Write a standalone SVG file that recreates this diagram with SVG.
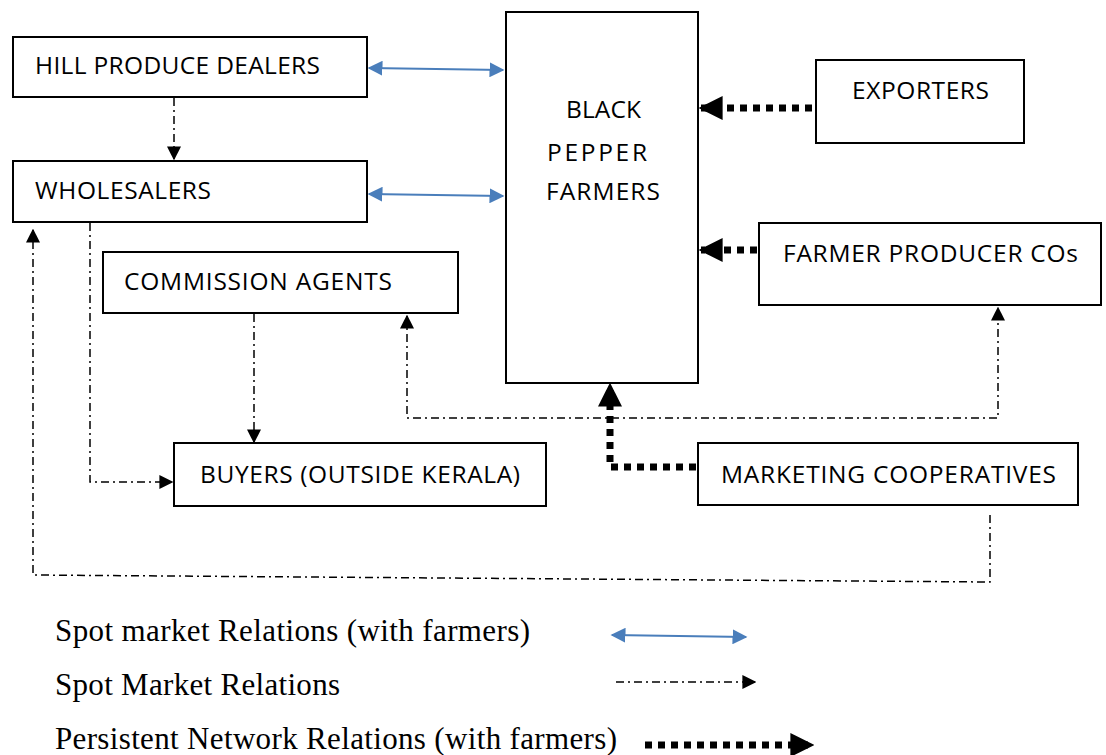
<svg xmlns="http://www.w3.org/2000/svg" width="1106" height="755" viewBox="0 0 1106 755">
  <style>
    .box { fill: #fff; stroke: #000; stroke-width: 2; }
    .lbl { font-family: "Open Sans", "Liberation Sans", sans-serif; font-size: 24.5px; fill: #000; }
    .leg { font-family: "Liberation Serif", serif; font-size: 31px; fill: #000; }
    .spot-f { fill: none; stroke: #4a7ebb; stroke-width: 2; }
    .spot { fill: none; stroke: #000; stroke-width: 1.5; stroke-dasharray: 8 4 2 4; }
    .pers { fill: none; stroke: #000; stroke-width: 7; stroke-dasharray: 7 6; }
  </style>
  <defs>
    <marker id="blueHead" viewBox="0 0 10 10" refX="9" refY="5" markerWidth="15" markerHeight="15" markerUnits="userSpaceOnUse" orient="auto-start-reverse">
      <path d="M0,0 L10,5 L0,10 z" fill="#4a7ebb"/>
    </marker>
    <marker id="thinHead" viewBox="0 0 10 10" refX="9" refY="5" markerWidth="14" markerHeight="14" markerUnits="userSpaceOnUse" orient="auto-start-reverse">
      <path d="M0,0 L10,5 L0,10 z" fill="#000"/>
    </marker>
    <marker id="thickHead" viewBox="0 0 10 10" refX="9" refY="5" markerWidth="24" markerHeight="24" markerUnits="userSpaceOnUse" orient="auto-start-reverse">
      <path d="M0,0 L10,5 L0,10 z" fill="#000"/>
    </marker>
  </defs>

  <g id="connectors">
    <!-- spot market relations with farmers -->
    <path class="spot-f" d="M369,68 L503,70" marker-start="url(#blueHead)" marker-end="url(#blueHead)"/>
    <path class="spot-f" d="M369,194 L503,196" marker-start="url(#blueHead)" marker-end="url(#blueHead)"/>
    <!-- spot market relations -->
    <path class="spot" d="M174,98 L174,159" marker-end="url(#thinHead)"/>
    <path class="spot" d="M254,314 L254,442" marker-end="url(#thinHead)"/>
    <path class="spot" d="M90,223 L90,482 L172,482" marker-end="url(#thinHead)"/>
    <path class="spot" d="M407,316 L407,418 L998,418 L998,308" marker-start="url(#thinHead)" marker-end="url(#thinHead)"/>
    <path class="spot" d="M990,515 L990,582 L33,575 L33,230" marker-end="url(#thinHead)"/>
    <!-- persistent network relations -->
    <path class="pers" d="M812,108 L701,108" marker-end="url(#thickHead)"/>
    <path class="pers" d="M757,250 L701,250" marker-end="url(#thickHead)"/>
    <path class="pers" d="M696,467 L610,467 L610,385" marker-end="url(#thickHead)"/>
  </g>

  <g id="hill-produce-dealers">
    <rect class="box" x="13" y="37" width="354" height="60"/>
    <text class="lbl" x="35" y="74" textLength="285">HILL PRODUCE DEALERS</text>
  </g>
  <g id="wholesalers">
    <rect class="box" x="13" y="161" width="354" height="61"/>
    <text class="lbl" x="35" y="199" textLength="176">WHOLESALERS</text>
  </g>
  <g id="commission-agents">
    <rect class="box" x="103" y="252" width="355" height="61"/>
    <text class="lbl" x="124" y="290" textLength="268">COMMISSION AGENTS</text>
  </g>
  <g id="black-pepper-farmers">
    <rect class="box" x="506" y="12" width="192" height="371"/>
    <text class="lbl" x="566" y="118" textLength="75">BLACK</text>
    <text class="lbl" x="547" y="161" textLength="100">PEPPER</text>
    <text class="lbl" x="546" y="200" textLength="114">FARMERS</text>
  </g>
  <g id="exporters">
    <rect class="box" x="816" y="60" width="208" height="83"/>
    <text class="lbl" x="852" y="99" textLength="137">EXPORTERS</text>
  </g>
  <g id="farmer-producer-cos">
    <rect class="box" x="759" y="223" width="342" height="82"/>
    <text class="lbl" x="783" y="262" textLength="295">FARMER PRODUCER COs</text>
  </g>
  <g id="buyers-outside-kerala">
    <rect class="box" x="174" y="443" width="372" height="63"/>
    <text class="lbl" x="200" y="483" textLength="320">BUYERS (OUTSIDE KERALA)</text>
  </g>
  <g id="marketing-cooperatives">
    <rect class="box" x="698" y="443" width="380" height="62"/>
    <text class="lbl" x="721" y="483" textLength="335">MARKETING COOPERATIVES</text>
  </g>

  <g id="legend">
    <text class="leg" x="55" y="641" textLength="475">Spot market Relations (with farmers)</text>
    <path class="spot-f" d="M612,635 L746,637" marker-start="url(#blueHead)" marker-end="url(#blueHead)"/>
    <text class="leg" x="55" y="695" textLength="285">Spot Market Relations</text>
    <path class="spot" d="M616,682 L755,682" marker-end="url(#thinHead)"/>
    <text class="leg" x="55" y="749" textLength="562">Persistent Network Relations (with farmers)</text>
    <path class="pers" d="M645,745 L812,745" marker-end="url(#thickHead)"/>
  </g>
</svg>
